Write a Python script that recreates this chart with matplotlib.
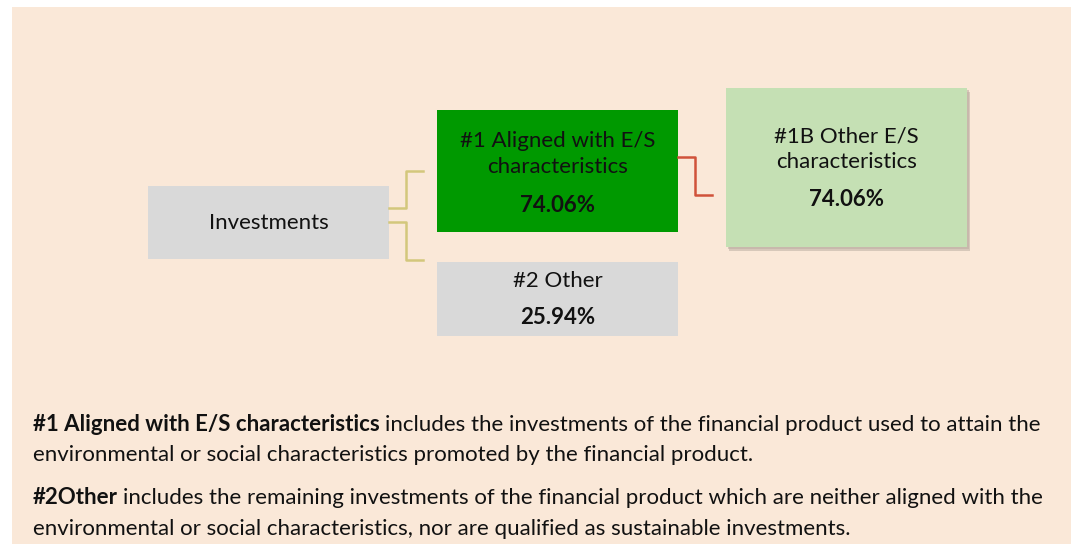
import numpy as np
import matplotlib
matplotlib.use("Agg")
import matplotlib.pyplot as plt
from matplotlib.patches import Rectangle

plt.rcParams['font.family'] = ['Lato', 'DejaVu Sans']

# chart data
root_label = "Investments"
level1_labels = ["#1 Aligned with E/S\ncharacteristics", "#2 Other"]
level1_values = [74.06, 25.94]
level2_labels = ["#1B Other E/S\ncharacteristics"]
level2_values = [74.06]

note_heads = ["#1 Aligned with E/S characteristics", "#2Other"]
note_lines = [
    ["includes the investments of the financial product used to attain the",
     "environmental or social characteristics promoted by the financial product."],
    ["includes the remaining investments of the financial product which are neither aligned with the",
     "environmental or social characteristics, nor are qualified as sustainable investments."],
]

BG = "#FAE8D8"
GREY = "#D9D9D9"
GREEN = "#009900"
LIGHT_GREEN = "#C5E0B4"
FS = 16

fig = plt.figure(figsize=(10.71, 5.44), dpi=100)
ax = fig.add_axes([0, 0, 1, 1])
ax.set_xlim(0, 1071)
ax.set_ylim(544, 0)
ax.axis("off")

ax.add_patch(Rectangle((12, 7), 1059, 537, color=BG, lw=0))


def box(x, y, w, h, color, title, value, ty, vy, shadow=False):
    if shadow:
        ax.add_patch(Rectangle((x + 3, y + 4), w, h, color="#C9BBAE", lw=0, alpha=0.7))
        ax.add_patch(Rectangle((x + 1.5, y + 2), w, h, color="#BFB0A3", lw=0, alpha=0.6))
    ax.add_patch(Rectangle((x, y), w, h, color=color, lw=0))
    ax.text(x + w / 2, ty, title, ha="center", va="center", fontsize=FS,
            linespacing=1.35, color="#111111")
    if value is not None:
        ax.text(x + w / 2, vy, "%.2f%%" % value, ha="center", va="center",
                fontsize=FS, fontweight="bold", color="#111111")


# boxes
box(148, 186, 241, 73, GREY, root_label, None, 223, None)
box(437, 110, 241, 122, GREEN, level1_labels[0], level1_values[0], 154, 205)
box(437, 262, 241, 74, GREY, level1_labels[1], level1_values[1], 281, 318)
box(726, 88, 241, 159, LIGHT_GREEN, level2_labels[0], level2_values[0], 149, 199, shadow=True)

# connectors
ax.plot([389, 406, 406, 423], [208, 208, 171, 171], color="#D3C77C", lw=1.8)
ax.plot([389, 406, 406, 423], [222, 222, 260, 260], color="#D3C77C", lw=1.8)
ax.plot([678, 695, 695, 712], [157, 157, 195, 195], color="#D0523A", lw=1.8)

# notes: bold head followed by regular text on the same baseline
renderer = fig.canvas.get_renderer()
ys = [[431, 461], [504, 535]]
for head, lines, (y1, y2) in zip(note_heads, note_lines, ys):
    t = ax.text(33, y1, head, ha="left", va="baseline", fontsize=FS,
                fontweight="bold", color="#111111")
    bb = t.get_window_extent(renderer).transformed(ax.transData.inverted())
    ax.text(bb.x1 + 5, y1, lines[0], ha="left", va="baseline",
            fontsize=FS, color="#111111")
    ax.text(33, y2, lines[1], ha="left", va="baseline", fontsize=FS, color="#111111")

fig.savefig("out.png", dpi=100)
